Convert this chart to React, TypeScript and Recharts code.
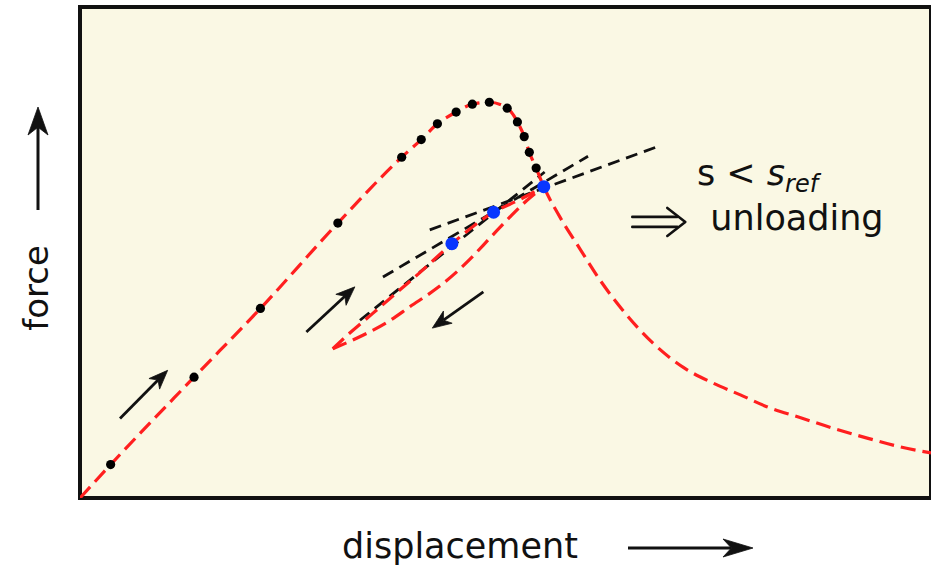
import {
  ComposedChart,
  Line,
  Scatter,
  XAxis,
  YAxis,
  CartesianGrid,
  ReferenceArea,
  ReferenceLine,
  ReferenceDot,
} from "recharts";

type Pt = [number, number]; // [displacement, force]

// full equilibrium path: linear loading, peak, softening tail
const equilibriumPath: Pt[] = [
  [0, 0], [0.36, 0.34], [1.34, 1.23], [2.12, 1.93], [3.03, 2.8], [3.78, 3.47],
  [4.01, 3.65], [4.2, 3.81], [4.42, 3.93], [4.61, 4.01], [4.81, 4.03], [5.02, 3.97],
  [5.14, 3.83], [5.22, 3.68], [5.28, 3.52], [5.36, 3.36], [5.45, 3.17],
  [5.64, 2.86], [5.88, 2.53], [6.11, 2.22], [6.38, 1.91], [6.73, 1.58], [7.09, 1.33],
  [7.44, 1.17], [7.76, 1.05], [8.07, 0.93], [8.46, 0.82], [8.85, 0.71], [9.25, 0.61],
  [9.64, 0.52], [10, 0.46],
];

// converged load steps on the path
const loadSteps: Pt[] = [
  [0.36, 0.34], [1.34, 1.23], [2.12, 1.93], [3.03, 2.8], [3.78, 3.47], [4.01, 3.65],
  [4.2, 3.81], [4.42, 3.93], [4.61, 4.01], [4.81, 4.03], [5.02, 3.97], [5.14, 3.83],
  [5.22, 3.68], [5.28, 3.52], [5.36, 3.36],
];

// unloading branch (lower) and reloading branch (upper)
const unloadBranch: Pt[] = [
  [2.97, 1.52], [3.33, 1.66], [3.61, 1.79], [3.88, 1.95], [4.2, 2.14], [4.41, 2.29],
  [4.58, 2.43], [4.82, 2.65], [5.05, 2.86], [5.25, 3.03], [5.45, 3.17],
];
const reloadBranch: Pt[] = [
  [2.97, 1.52], [3.17, 1.68], [3.44, 1.88], [3.76, 2.12], [4.0, 2.3], [4.37, 2.59],
  [4.86, 2.91], [5.17, 3.04], [5.45, 3.17],
];

// iteration points
const iterPoints: Pt[] = [[4.37, 2.59], [4.86, 2.91], [5.45, 3.17]];

// tangent lines
const tangentA: Pt[] = [[3.56, 2.25], [5.97, 3.48]];
const tangentB: Pt[] = [[4.11, 2.73], [6.76, 3.57]];
const tangentC: Pt[] = [[3.29, 1.81], [5.46, 3.32]];

// direction arrows [x1, y1, x2, y2]
const pathArrows: [number, number, number, number][] = [
  [0.47, 0.81, 1.03, 1.3],
  [2.66, 1.69, 3.23, 2.15],
  [4.74, 2.1, 4.14, 1.73],
];

const RED = "#FF1F1F";
const INK = "#111111";
const FONT = "DejaVu Sans, Verdana, sans-serif";

const toXY = (pts: Pt[]) => pts.map(([x, y]) => ({ x, y }));

function Arrow({ x1, y1, x2, y2, len, half, width }: any) {
  const d = Math.hypot(x2 - x1, y2 - y1) || 1;
  const ux = (x2 - x1) / d;
  const uy = (y2 - y1) / d;
  const bx = x2 - ux * len;
  const by = y2 - uy * len;
  const nx = x2 - ux * len * 0.72;
  const ny = y2 - uy * len * 0.72;
  const head = `M${x2},${y2} L${bx - uy * half},${by + ux * half} L${nx},${ny} L${bx + uy * half},${by - ux * half} Z`;
  return (
    <g>
      <line x1={x1} y1={y1} x2={nx} y2={ny} stroke={INK} strokeWidth={width} />
      <path d={head} fill={INK} stroke={INK} strokeWidth={0.8} strokeLinejoin="round" />
    </g>
  );
}

// "implies" double arrow, drawn open like the math glyph
function DoubleArrow({ x, y }: { x: number; y: number }) {
  return (
    <g fill="none" stroke={INK} strokeWidth={2.6} strokeLinecap="round" strokeLinejoin="round">
      <line x1={x} y1={y - 13} x2={x + 45} y2={y - 13} />
      <line x1={x} y1={y - 3} x2={x + 45} y2={y - 3} />
      <polyline points={`${x + 35},${y - 22} ${x + 53},${y - 8} ${x + 35},${y + 6}`} />
    </g>
  );
}

const YLabel = () => (
  <g>
    <text
      x={48}
      y={288}
      transform="rotate(-90 48 288)"
      textAnchor="middle"
      fontFamily={FONT}
      fontSize={34}
      fill={INK}
    >
      force
    </text>
    <Arrow x1={38} y1={210} x2={38} y2={107} len={28} half={10} width={3} />
  </g>
);

const XLabel = () => (
  <g>
    <text x={342} y={558} fontFamily={FONT} fontSize={35} fill={INK}>
      displacement
    </text>
    <Arrow x1={628} y1={548} x2={753} y2={548} len={30} half={9} width={3} />
  </g>
);

export default function App() {
  const dashedLine = (data: Pt[], color: string, dash: string, w: number, key: string) => (
    <Line
      key={key}
      data={toXY(data)}
      dataKey="y"
      type="monotone"
      stroke={color}
      strokeWidth={w}
      strokeDasharray={dash}
      dot={false}
      activeDot={false}
      isAnimationActive={false}
    />
  );

  return (
    <div style={{ position: "absolute", left: 0, top: 0, background: "#fff" }}>
      <ComposedChart width={931} height={569} margin={{ top: 7, right: 0, bottom: 0, left: 0 }}>
        <CartesianGrid horizontal={false} vertical={false} fill="#FAF8E4" />
        <XAxis
          type="number"
          dataKey="x"
          domain={[0, 10]}
          allowDataOverflow
          height={71}
          tick={false}
          axisLine={false}
          tickLine={false}
          label={() => <XLabel />}
        />
        <YAxis
          type="number"
          dataKey="y"
          domain={[0, 5]}
          allowDataOverflow
          width={80}
          tick={false}
          axisLine={false}
          tickLine={false}
          label={() => <YLabel />}
        />

        {dashedLine(tangentA, INK, "12 7", 2.8, "ta")}
        {dashedLine(tangentB, INK, "12 7", 2.8, "tb")}
        {dashedLine(tangentC, INK, "12 7", 2.8, "tc")}

        {dashedLine(equilibriumPath, RED, "15 7", 3.2, "path")}
        {dashedLine(unloadBranch, RED, "15 7", 3.2, "unload")}
        {dashedLine(reloadBranch, RED, "15 7", 3.2, "reload")}

        <Scatter
          data={toXY(loadSteps)}
          isAnimationActive={false}
          shape={(p: any) => <circle cx={p.cx} cy={p.cy} r={4.6} fill="#000" />}
        />
        <Scatter
          data={toXY(iterPoints)}
          isAnimationActive={false}
          shape={(p: any) => <circle cx={p.cx} cy={p.cy} r={6.5} fill="#0836FF" />}
        />

        {pathArrows.map(([x1, y1, x2, y2], i) => (
          <ReferenceLine
            key={`arr${i}`}
            segment={[{ x: x1, y: y1 }, { x: x2, y: y2 }]}
            shape={(p: any) => (
              <Arrow x1={p.x1} y1={p.y1} x2={p.x2} y2={p.y2} len={19} half={7.5} width={2.8} />
            )}
          />
        ))}

        <ReferenceDot
          x={7.25}
          y={3.19}
          r={0}
          shape={(p: any) => (
            <text x={p.cx} y={p.cy} fontFamily={FONT} fontSize={35} fill={INK}>
              {"s < "}
              <tspan fontStyle="italic">s</tspan>
              <tspan fontStyle="italic" fontSize={24} dy={7}>
                ref
              </tspan>
            </text>
          )}
        />
        <ReferenceDot
          x={6.49}
          y={2.73}
          r={0}
          shape={(p: any) => (
            <g>
              <DoubleArrow x={p.cx} y={p.cy} />
              <text x={p.cx + 78} y={p.cy} fontFamily={FONT} fontSize={35} fill={INK}>
                unloading
              </text>
            </g>
          )}
        />

        <ReferenceArea x1={0} x2={10} y1={0} y2={5} fill="none" stroke={INK} strokeWidth={4} />
      </ComposedChart>
    </div>
  );
}
